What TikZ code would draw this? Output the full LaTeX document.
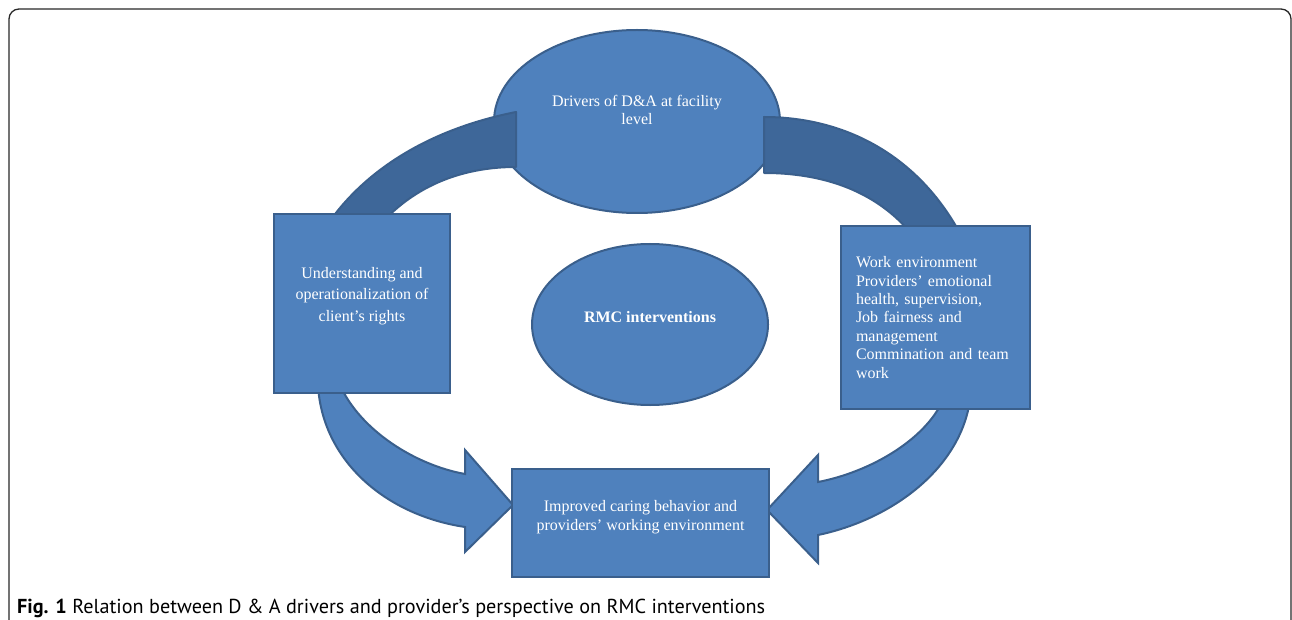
\documentclass[tikz,border=0pt]{standalone}
\usepackage{fontspec}
\setmainfont{Liberation Serif}
\newfontfamily\capfont{PT Sans}
\usetikzlibrary{shapes.geometric}
\definecolor{boxfill}{RGB}{79,129,189}
\definecolor{boxline}{RGB}{58,95,140}
\definecolor{bandcol}{RGB}{62,103,153}
\definecolor{framecol}{RGB}{40,40,40}
\begin{document}
\begin{tikzpicture}[x=1pt,y=-1pt,
  blueshape/.style={fill=boxfill, draw=boxline, line width=2pt, inner sep=0pt},
  ellnode/.style={blueshape, ellipse},
  boxnode/.style={blueshape, rectangle},
  bandpath/.style={fill=bandcol, draw=boxline, line width=2pt, line join=round},
  arrowpath/.style={fill=boxfill, draw=boxline, line width=2pt, line join=miter},
  wtext/.style={text=white, inner sep=0pt, align=center, font=\fontsize{16}{18.4}\selectfont}]
\useasboundingbox (0,0) rectangle (1292,620);
% frame
\draw[framecol, line width=1.3pt, rounded corners=10pt] (9,660) -- (9,9) -- (1291,9) -- (1291,660);

% top ellipse
\node[ellnode, minimum width=286pt, minimum height=183pt] (top) at (637,121.5) {};

% top bands (over the top ellipse, under the side boxes)
\draw[bandpath] (318,240) .. controls (328,222) and (375,140) .. (516,112)
   -- (516,167) .. controls (450,167) and (400,195) .. (368,240) -- cycle;
\draw[bandpath] (764,117) .. controls (850,117) and (925,160) .. (966,245)
   -- (920,245) .. controls (885,195) and (830,173) .. (764,173) -- cycle;

% bottom arrows (under the side boxes)
\draw[arrowpath] (318,385) .. controls (322,460) and (385,515) .. (465,527)
   -- (465,552) -- (513,505) -- (465,450) -- (465,474)
   .. controls (415,465) and (360,430) .. (340,385) -- cycle;
\draw[arrowpath] (970,400) .. controls (960,470) and (890,520) .. (818,535)
   -- (818,563) -- (767,510) -- (818,455) -- (818,482)
   .. controls (870,472) and (925,440) .. (943,400) -- cycle;

% centre ellipse
\node[ellnode, minimum width=236pt, minimum height=161pt] (rmc) at (650,324.5) {};

% side boxes
\node[boxnode, minimum width=176pt, minimum height=179pt] (left) at (362,303.5) {};
\node[boxnode, minimum width=189pt, minimum height=183pt, text=white, align=left,
      text width=159pt, inner xsep=15pt, font=\fontsize{16}{18.4}\selectfont] (right) at (935.5,317.5)
  {Work environment\\Providers’ emotional\\health, supervision,\\Job fairness and\\management\\Commination and team\\work};

% bottom box
\node[boxnode, minimum width=257pt, minimum height=108pt] (bottom) at (640.5,523) {};

% texts
\node[wtext] (toptext) at (637,110) {Drivers of D\&A at facility\\level};
\node[wtext] (rmctext) at (650,316.7) {\textbf{RMC interventions}};
\node[wtext, font=\fontsize{16}{21.5}\selectfont] (lefttext) at (362,295.7)
  {Understanding and\\operationalization of\\client’s rights};
\node[wtext] (bottext) at (640.5,517) {Improved caring behavior and\\providers’ working environment};

% caption
\node[anchor=base west, inner sep=0pt, font=\capfont\fontsize{20.2}{22}\selectfont] (caption) at (17,613)
  {\textbf{Fig. 1} Relation between D \& A drivers and provider’s perspective on RMC interventions};
\end{tikzpicture}
\end{document}
